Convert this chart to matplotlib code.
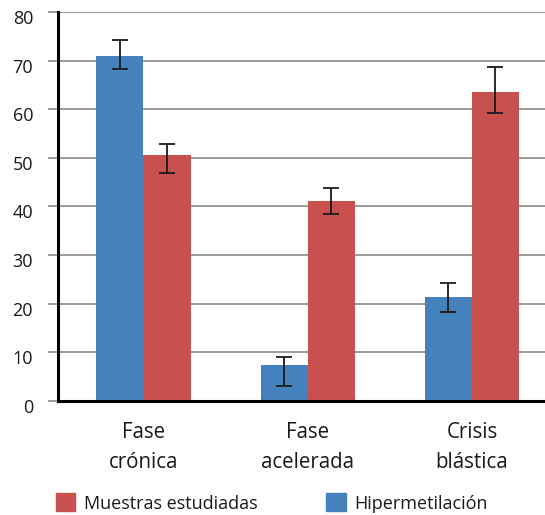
import matplotlib
matplotlib.use("Agg")
import matplotlib.pyplot as plt
import matplotlib.transforms as mtransforms
import numpy as np
from matplotlib.patches import Patch

plt.rcParams['font.family'] = ['Open Sans', 'DejaVu Sans']

categories = ["Fase\ncrónica", "Fase\nacelerada", "Crisis\nblástica"]
hiper = [71.0, 7.4, 21.4]
hiper_lo = [68.2, 3.1, 18.3]
hiper_hi = [74.3, 9.1, 24.3]
muestras = [50.6, 41.2, 63.6]
muestras_lo = [46.8, 38.4, 59.3]
muestras_hi = [52.8, 43.8, 68.7]
yticks = [0, 10, 20, 30, 40, 50, 60, 70, 80]

blue = "#4581BD"
red = "#C8514E"
txt = "#1a1a1a"

fig = plt.figure(figsize=(5.45, 5.15), dpi=100)
ax = fig.add_axes([58/545, 1-401/515, 1-58/545, (401-12)/515])

x = np.arange(len(categories))
w = 0.287
h_err = [np.array(hiper) - np.array(hiper_lo), np.array(hiper_hi) - np.array(hiper)]
m_err = [np.array(muestras) - np.array(muestras_lo), np.array(muestras_hi) - np.array(muestras)]
ekw = dict(ecolor="#1a1a1a", elinewidth=1.3, capsize=5.5, capthick=1.3)
ax.bar(x - w/2, hiper, w, color=blue, yerr=h_err, error_kw=ekw, zorder=3)
ax.bar(x + w/2, muestras, w, color=red, yerr=m_err, error_kw=ekw, zorder=3)

ax.set_xlim(-0.52, 2.445)
ax.set_ylim(0, 80)
ax.set_yticks(yticks)
ax.set_yticklabels([str(t) for t in yticks], fontsize=13, color=txt)
ax.yaxis.grid(True, color="#8a8a8a", linewidth=1.2, zorder=0)
ax.tick_params(axis='y', length=7, width=1.2, color="#8a8a8a", pad=11)
offset = mtransforms.ScaledTranslation(0, -5/100, fig.dpi_scale_trans)
for lab in ax.get_yticklabels():
    lab.set_transform(lab.get_transform() + offset)
ax.set_xticks(x)
ax.set_xticklabels(categories, fontsize=14.8, linespacing=1.55, color=txt)
ax.tick_params(axis='x', length=0, pad=15)
for s in ['top', 'right']:
    ax.spines[s].set_visible(False)
ax.spines['left'].set_linewidth(2.2)
ax.spines['bottom'].set_linewidth(2.2)
ax.spines['left'].set_zorder(5)
ax.spines['bottom'].set_zorder(5)
ax.set_axisbelow(True)

handles = [Patch(color=red, label="Muestras estudiadas"), Patch(color=blue, label="Hipermetilación")]
leg = fig.legend(handles=handles, loc='center left', bbox_to_anchor=(52/545, 1-503/515), ncol=2,
                 frameon=False, fontsize=13, handlelength=1.1, handleheight=1.15,
                 handletextpad=0.5, columnspacing=3.75, borderaxespad=0, borderpad=0.2)
for t in leg.get_texts():
    t.set_color(txt)

fig.savefig("out.png", dpi=100)
